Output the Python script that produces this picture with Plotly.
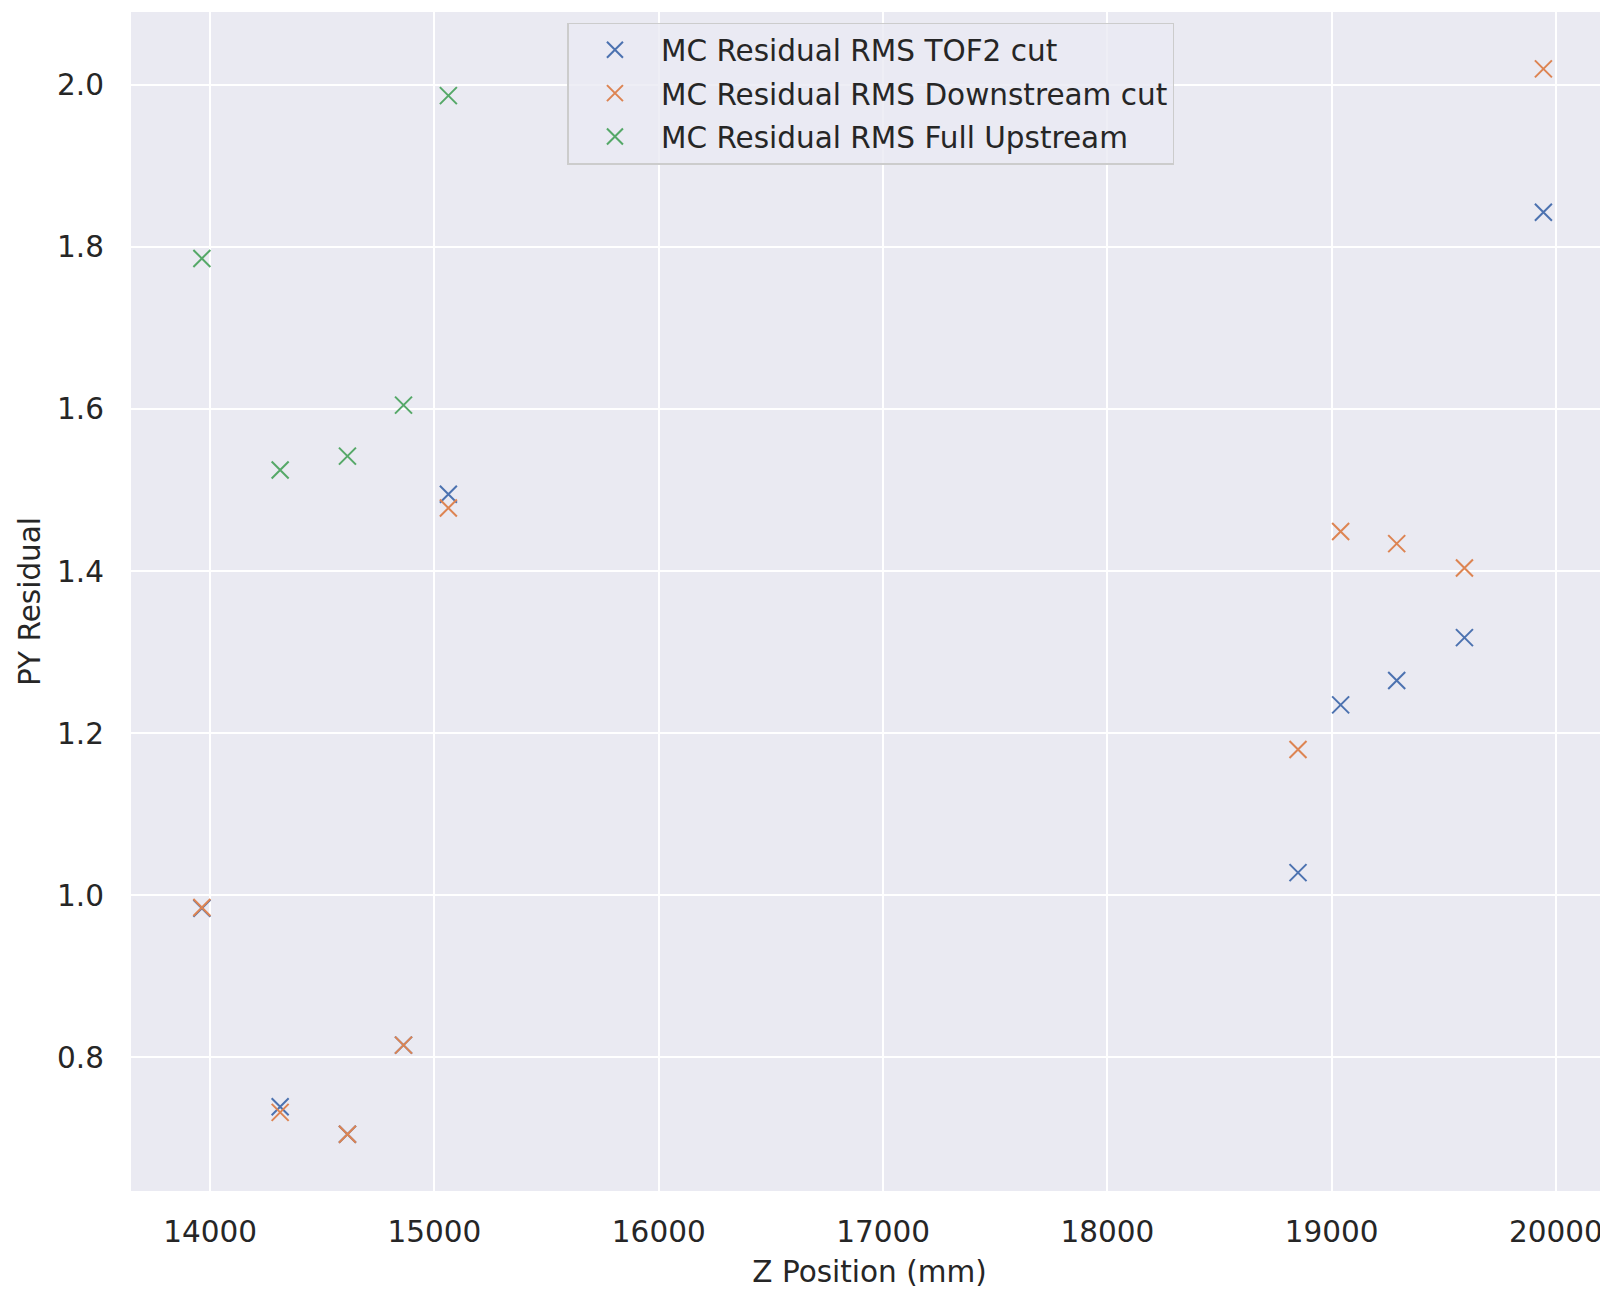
import plotly.graph_objects as go

z_up = [13963, 14312, 14612, 14862, 15062]
z_all = [13963, 14312, 14612, 14862, 15062, 18850, 19040, 19290, 19592, 19944]

tof2_cut = [0.984, 0.739, 0.705, 0.815, 1.495, 1.028, 1.235, 1.265, 1.318, 1.843]
downstream_cut = [0.985, 0.732, 0.705, 0.815, 1.478, 1.180, 1.449, 1.434, 1.404, 2.020]
full_upstream = [1.786, 1.525, 1.542, 1.605, 1.987]

x_ticks = [14000, 15000, 16000, 17000, 18000, 19000, 20000]
y_ticks = [0.8, 1.0, 1.2, 1.4, 1.6, 1.8, 2.0]

names = ["MC Residual RMS TOF2 cut", "MC Residual RMS Downstream cut", "MC Residual RMS Full Upstream"]
colors = ["#4C72B0", "#DD8452", "#55A868"]

FONT = "DejaVu Sans"
FS = 29.5
fig = go.Figure()
for i, (xs, ys, nm, c) in enumerate([(z_all, tof2_cut, names[0], colors[0]),
                                     (z_all, downstream_cut, names[1], colors[1]),
                                     (z_up, full_upstream, names[2], colors[2])]):
    fig.add_trace(go.Scatter(x=xs, y=ys, mode="markers", name=nm, legendgroup=f"g{i}",
                             marker=dict(symbol="x-thin", size=17, color=c,
                                         line=dict(width=2, color=c))))

# page body has an 8px margin, so the figure is 8px smaller and margins shifted
fig.update_layout(
    width=1600, height=1281,
    margin=dict(l=123, r=0, t=4, b=98),
    paper_bgcolor="white", plot_bgcolor="#EAEAF2",
    font=dict(family=FONT, size=FS, color="#262626"),
    showlegend=True,
    legend=dict(x=0.2955, y=0.991, xanchor="left", yanchor="top",
                bgcolor="rgba(234,234,242,0.8)", bordercolor="#CCCCCC", borderwidth=1.5,
                font=dict(size=FS), itemsizing="trace", itemwidth=82, tracegroupgap=2),
    xaxis=dict(range=[13647, 20232], tickvals=x_ticks, ticktext=[str(v) for v in x_ticks],
               showgrid=True, gridcolor="white", gridwidth=2, zeroline=False,
               showline=False, ticks="", ticklabelstandoff=20, automargin=False,
               title=dict(text="Z Position (mm)", font=dict(size=FS), standoff=14)),
    yaxis=dict(range=[0.635, 2.0902], tickvals=y_ticks, ticktext=[f"{v:.1f}" for v in y_ticks],
               showgrid=True, gridcolor="white", gridwidth=2, zeroline=False,
               showline=False, ticks="", ticklabelstandoff=26, automargin=False,
               title=dict(text="PY Residual", font=dict(size=FS), standoff=7)),
)
fig.write_html("out.html")
